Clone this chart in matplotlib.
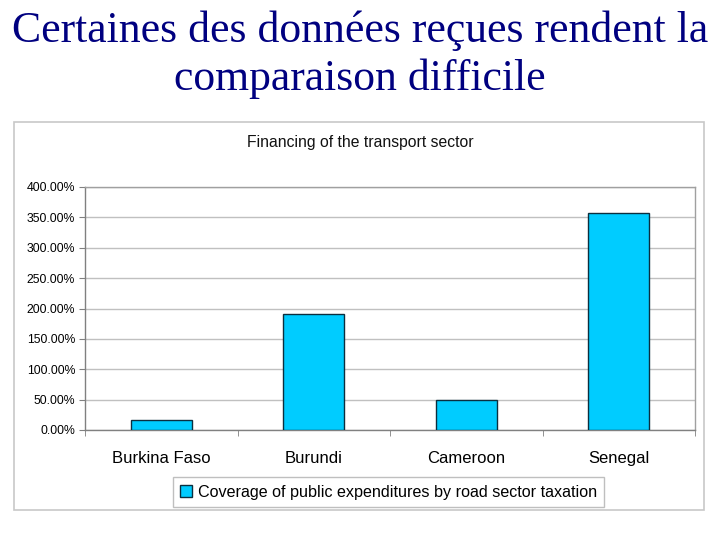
import matplotlib
matplotlib.use("Agg")
import matplotlib.pyplot as plt
from matplotlib.patches import Rectangle
from matplotlib.ticker import FuncFormatter, MultipleLocator

categories = ["Burkina Faso", "Burundi", "Cameroon", "Senegal"]
values = [16, 191, 49, 357]
series_name = "Coverage of public expenditures by road sector taxation"
title_line1 = "Certaines des données reçues rendent la"
title_line2 = "comparaison difficile"
chart_title = "Financing of the transport sector"

W, H = 720, 540
fig = plt.figure(figsize=(7.2, 5.4), dpi=100)
fig.patch.set_facecolor("white")

# main slide title
fig.text(360 / W, 1 - 31 / H, title_line1, ha="center", va="center",
         family="Liberation Serif", fontsize=31.5, color="#000080")
fig.text(360 / W, 1 - 79 / H, title_line2, ha="center", va="center",
         family="Liberation Serif", fontsize=31.5, color="#000080")

# chart frame
fig.patches.append(Rectangle((14 / W, 1 - 510 / H), 690 / W, 388 / H,
                             transform=fig.transFigure, fill=False,
                             edgecolor="#c8c8c8", linewidth=1.2))

fig.text(360 / W, 1 - 142 / H, chart_title, ha="center", va="center",
         family="Liberation Sans", fontsize=11.3, color="#111111")

ax = fig.add_axes([85 / W, 1 - 430 / H, 610 / W, 243 / H])
x = list(range(len(categories)))
ax.bar(x, values, width=0.4, color="#00CCFF", edgecolor="#0b2f3f",
       linewidth=1.0, label=series_name, zorder=3)
ax.set_xlim(-0.5, len(categories) - 0.5)
ax.set_ylim(0, 400)
ax.yaxis.set_major_locator(MultipleLocator(50))
ax.yaxis.set_major_formatter(FuncFormatter(lambda v, p: f"{v:.2f}%"))
ax.grid(axis="y", color="#c0c0c0", linewidth=1.0, zorder=0)
for s in ax.spines.values():
    s.set_color("#a0a0a0")
    s.set_linewidth(1.0)
ax.spines["left"].set_color("#808080")
ax.spines["bottom"].set_color("#808080")

ax.set_xticks(x)
ax.set_xticklabels(categories, family="Liberation Sans", fontsize=12)
ax.set_xticks([i + 0.5 for i in x[:-1]] + [-0.5, len(categories) - 0.5], minor=True)
ax.tick_params(axis="x", which="major", length=0, pad=15)
ax.tick_params(axis="x", which="minor", length=4, color="#808080", direction="out")
ax.tick_params(axis="y", length=4, color="#808080", labelsize=8.8, pad=3)
for lab in ax.get_yticklabels():
    lab.set_family("Liberation Sans")

leg = ax.legend(loc="center", bbox_to_anchor=(388.5 / W, 1 - 492 / H),
                bbox_transform=fig.transFigure, frameon=True, fancybox=False,
                prop={"family": "Liberation Sans", "size": 11.6},
                handlelength=0.75, handleheight=0.75, handletextpad=0.35,
                borderpad=0.45, borderaxespad=0)
leg.get_frame().set_edgecolor("#b0b0b0")
leg.get_frame().set_linewidth(1.0)

fig.savefig("out.png", dpi=100, facecolor="white")
